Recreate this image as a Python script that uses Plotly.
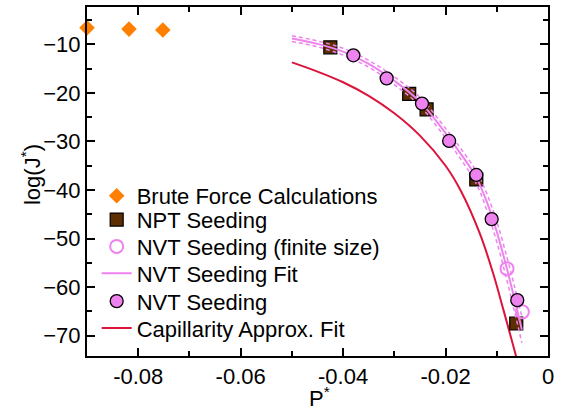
import plotly.graph_objects as go

# ---- data ----
brute_P = [-0.0900, -0.0818, -0.0752]
brute_J = [-6.6, -6.85, -7.05]

npt_P = [-0.0425, -0.0271, -0.0237, -0.0140, -0.0062]
npt_J = [-10.6, -20.2, -23.4, -37.8, -67.5]

nvt_P = [-0.0380, -0.0315, -0.0246, -0.0193, -0.0140, -0.0110, -0.0060]
nvt_J = [-12.25, -17.0, -22.2, -29.9, -36.9, -46.0, -62.7]

nvt_fs_P = [-0.0080, -0.0050]
nvt_fs_J = [-56.2, -65.1]

fit_P = [-0.050, -0.045, -0.040, -0.035, -0.030, -0.025, -0.020, -0.017,
         -0.014, -0.012, -0.010, -0.008, -0.0065, -0.0051]
fit_J = [-8.8, -9.9, -11.5, -14.0, -17.5, -21.8, -28.3, -32.6,
         -37.4, -42.3, -48.6, -56.3, -62.6, -68.8]
fit_up = [-8.2, -9.3, -10.8, -13.3, -16.7, -20.9, -27.3, -31.5,
          -36.1, -40.6, -46.5, -53.9, -60.0, -66.1]
fit_lo = [-9.4, -10.5, -12.2, -14.7, -18.3, -22.7, -29.3, -33.7,
          -38.7, -44.0, -50.7, -58.7, -65.2, -71.5]

cap_P = [-0.050, -0.045, -0.040, -0.035, -0.030, -0.025, -0.020, -0.017,
         -0.0133, -0.0107, -0.0087, -0.0064, -0.0058]
cap_J = [-13.7, -15.6, -17.8, -20.6, -24.2, -28.8, -35.0, -40.2,
         -49.0, -57.2, -64.7, -73.6, -76.0]

x_ticks = [-0.08, -0.06, -0.04, -0.02, 0]
x_ticklabels = ["-0.08", "-0.06", "-0.04", "-0.02", "0"]
y_ticks = [-70, -60, -50, -40, -30, -20, -10]

ORANGE = "#FF8000"
BROWN = "#5C2E00"
PINK = "#EE82EE"
RED = "#DC143C"
FONT = "Liberation Sans, Arial, Helvetica, sans-serif"
FS = 22

fig = go.Figure()

fig.add_trace(go.Scatter(x=cap_P, y=cap_J, mode="lines", name="Capillarity Approx. Fit",
                         line=dict(color=RED, width=2, shape="spline"), legend="legend6"))
fig.add_trace(go.Scatter(x=npt_P, y=npt_J, mode="markers", name="NPT Seeding",
                         marker=dict(symbol="square", size=13, color=BROWN,
                                     line=dict(color="black", width=1.2)),
                         legend="legend2", cliponaxis=False))
fig.add_trace(go.Scatter(x=fit_P, y=fit_J, mode="lines", name="NVT Seeding Fit",
                         line=dict(color=PINK, width=2, shape="spline"), legend="legend4"))
fig.add_trace(go.Scatter(x=fit_P, y=fit_up, mode="lines", showlegend=False,
                         line=dict(color=PINK, width=1.5, dash="4px,3px", shape="spline")))
fig.add_trace(go.Scatter(x=fit_P, y=fit_lo, mode="lines", showlegend=False,
                         line=dict(color=PINK, width=1.5, dash="4px,3px", shape="spline")))
fig.add_trace(go.Scatter(x=nvt_fs_P, y=nvt_fs_J, mode="markers", name="NVT Seeding (finite size)",
                         marker=dict(symbol="circle-open", size=13, color=PINK,
                                     line=dict(color=PINK, width=2)),
                         legend="legend3", cliponaxis=False))
fig.add_trace(go.Scatter(x=nvt_P, y=nvt_J, mode="markers", name="NVT Seeding",
                         marker=dict(symbol="circle", size=13, color=PINK,
                                     line=dict(color="black", width=1.3)),
                         legend="legend5", cliponaxis=False))
fig.add_trace(go.Scatter(x=brute_P, y=brute_J, mode="markers", name="Brute Force Calculations",
                         marker=dict(symbol="diamond", size=12, color=ORANGE,
                                     line=dict(width=0)),
                         legend="legend", cliponaxis=False))

axis_common = dict(showline=True, linecolor="black", linewidth=2, mirror="allticks",
                   ticks="inside", ticklen=8, tickwidth=2, tickcolor="black",
                   showgrid=False, zeroline=False,
                   tickfont=dict(family=FONT, size=FS, color="black"))

fig.update_xaxes(range=[-0.09, 0], tickvals=x_ticks, ticktext=x_ticklabels,
                 minor=dict(dtick=0.01, tick0=0, ticks="inside", ticklen=5, tickwidth=2,
                            tickcolor="black"),
                 **axis_common)
fig.update_yaxes(range=[-74.2, -2.3], tickvals=y_ticks,
                 minor=dict(dtick=5, tick0=0, ticks="inside", ticklen=5, tickwidth=2,
                            tickcolor="black"),
                 **axis_common)

PLOT_L, PLOT_R = 87, 548
PLOT_TOP, PLOT_BOT = 5, 356
PW, PH = PLOT_R - PLOT_L, PLOT_BOT - PLOT_TOP

legend_rows = [195, 219, 246, 273, 301, 328]
legend_names = ["legend", "legend2", "legend3", "legend4", "legend5", "legend6"]
legend_layouts = {}
for name, ypx in zip(legend_names, legend_rows):
    legend_layouts[name] = dict(
        x=0.021, y=(PLOT_BOT - ypx) / PH,
        xanchor="left", yanchor="middle",
        bgcolor="rgba(0,0,0,0)", borderwidth=0,
        font=dict(family=FONT, size=FS, color="black"),
        itemsizing="trace")

# axis titles placed as annotations
fig.add_annotation(text="log(J<sup>*</sup>)", textangle=-90,
                   x=(31 - PLOT_L) / PW, y=(PLOT_BOT - 174) / PH,
                   xref="paper", yref="paper", xanchor="center", yanchor="middle",
                   showarrow=False, font=dict(family=FONT, size=FS, color="black"))
fig.add_annotation(text="P<sup>*</sup>",
                   x=(319 - PLOT_L) / PW, y=(PLOT_BOT - 413) / PH,
                   xref="paper", yref="paper", xanchor="center", yanchor="bottom",
                   showarrow=False, font=dict(family=FONT, size=FS, color="black"))

fig.update_layout(
    width=562, height=414,
    margin=dict(l=PLOT_L, r=562 - PLOT_R, t=PLOT_TOP, b=414 - PLOT_BOT),
    paper_bgcolor="white", plot_bgcolor="white",
    font=dict(family=FONT, size=FS, color="black"),
    showlegend=True,
    **legend_layouts,
)

fig.write_html("out.html")
